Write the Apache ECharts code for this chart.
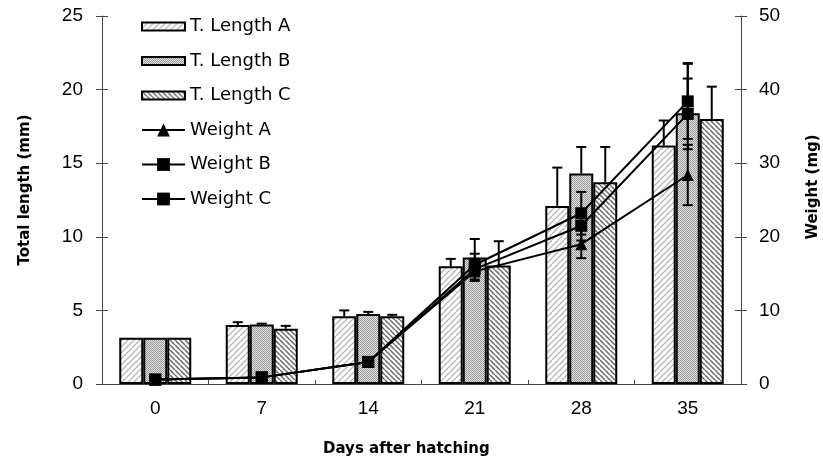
<!DOCTYPE html>
<html><head><meta charset="utf-8">
<script src="https://cdn.jsdelivr.net/npm/echarts@6/dist/echarts.min.js"></script>
<style>html,body{margin:0;padding:0;background:#fff}#c{width:823px;height:461px}</style>
</head><body><div id="c"></div>
<script>
const days = ['0','7','14','21','28','35'];
const lenA = [3.15, 4.0, 4.6, 8.0, 12.1, 16.2];
const lenB = [3.15, 4.05, 4.75, 8.6, 14.3, 18.4];
const lenC = [3.15, 3.75, 4.6, 8.05, 13.7, 18.0];
const lenAErr = [0, 0.2, 0.4, 0.5, 2.6, 1.7];
const lenBErr = [0, 0.05, 0.15, 1.25, 1.8, 3.4];
const lenCErr = [0, 0.2, 0.1, 1.65, 2.4, 2.2];
const wA = [0.6, 0.9, 3.0, 15.3, 19.0, 28.4];
const wB = [0.6, 0.9, 3.0, 16.2, 23.2, 38.4];
const wC = [0.6, 0.9, 3.0, 15.6, 21.5, 36.7];
const wAErr = [0, 0, 0, 1.3, 1.9, 4.1];
const wBErr = [0, 0, 0, 1.5, 2.9, 5.1];
const wCErr = [0, 0, 0, 1.4, 2.0, 4.8];
const leftTicks = {min: 0, max: 25, interval: 5};
const rightTicks = {min: 0, max: 50, interval: 10};
const titles = {x: 'Days after hatching', left: 'Total length (mm)', right: 'Weight (mg)'};

function pattern(kind) {
  const c = document.createElement('canvas');
  const ctx = c.getContext('2d');
  if (kind === 'B') {
    c.width = 2; c.height = 2;
    ctx.fillStyle = '#e2e2e2'; ctx.fillRect(0,0,2,2);
    ctx.fillStyle = '#9a9a9a'; ctx.fillRect(0,0,1,1); ctx.fillRect(1,1,1,1);
  } else {
    const s = kind === 'A' ? 6 : 5;
    c.width = s; c.height = s;
    ctx.fillStyle = '#fff'; ctx.fillRect(0,0,s,s);
    ctx.strokeStyle = kind === 'A' ? '#b5b5b5' : '#6a6a6a';
    ctx.lineWidth = kind === 'A' ? 1.3 : 1.5;
    ctx.beginPath();
    for (const k of [-s, 0, s]) {
      if (kind === 'A') { ctx.moveTo(k, s); ctx.lineTo(k + s, 0); }
      else { ctx.moveTo(k, 0); ctx.lineTo(k + s, s); }
    }
    ctx.stroke();
  }
  return {image: c, repeat: 'repeat'};
}

const barErrData = [];
[[lenA, lenAErr], [lenB, lenBErr], [lenC, lenCErr]].forEach((p, si) => {
  p[0].forEach((v, i) => { if (p[1][i] > 0) barErrData.push([i, v, p[1][i], si]); });
});
const wErrData = [];
[[wA, wAErr], [wB, wBErr], [wC, wCErr]].forEach((p) => {
  p[0].forEach((v, i) => { if (p[1][i] > 0) wErrData.push([i, v, p[1][i]]); });
});

const catGap = 0.324;
const errStyle = {stroke: '#000', lineWidth: 2};
function barErr(params, api) {
  const i = api.value(0), v = api.value(1), e = api.value(2), si = api.value(3);
  const band = api.size([1, 0])[0];
  const bw = band * (1 - catGap) / 3;
  const p0 = api.coord([i, v]);
  const p1 = api.coord([i, v + e]);
  const x = p0[0] + (si - 1) * bw;
  return {type: 'group', children: [
    {type: 'line', shape: {x1: x, y1: p0[1], x2: x, y2: p1[1]}, style: errStyle},
    {type: 'line', shape: {x1: x - 5, y1: p1[1], x2: x + 5, y2: p1[1]}, style: errStyle}
  ]};
}
function wErr(params, api) {
  const i = api.value(0), v = api.value(1), e = api.value(2);
  const pt = api.coord([i, v + e]);
  const pb = api.coord([i, v - e]);
  const x = pt[0];
  return {type: 'group', children: [
    {type: 'line', shape: {x1: x, y1: pt[1], x2: x, y2: pb[1]}, style: errStyle},
    {type: 'line', shape: {x1: x - 5, y1: pt[1], x2: x + 5, y2: pt[1]}, style: errStyle},
    {type: 'line', shape: {x1: x - 5, y1: pb[1], x2: x + 5, y2: pb[1]}, style: errStyle}
  ]};
}

const axisColor = '#444';
const axisLine = {show: true, lineStyle: {color: axisColor, width: 1}};
const tickLabel = {color: '#000', fontSize: 19, fontFamily: 'Arial, "Liberation Sans", sans-serif'};
const titleFont = 'bold 15px "DejaVu Sans"';
const legendText = {fontSize: 18, lineHeight: 18, fontFamily: 'DejaVu Sans', color: '#000'};

const chart = echarts.init(document.getElementById('c'), null, {renderer: 'canvas'});
const barStyle = (k) => ({color: pattern(k), borderColor: '#000', borderWidth: 2});
const hiddenAxis = {axisLine: {show: false}, axisLabel: {show: false}, splitLine: {show: false}};
chart.setOption({
  animation: false,
  grid: {left: 102, right: 82, top: 16, bottom: 77},
  legend: [
    {orient: 'vertical', left: 141, top: 17.5, padding: 0, icon: 'rect', itemWidth: 43, itemHeight: 8, itemGap: 16.5,
      textStyle: legendText, data: ['T. Length A', 'T. Length B', 'T. Length C']},
    {orient: 'vertical', left: 141, top: 121, padding: 0, itemWidth: 43, itemHeight: 16, itemGap: 16.5,
      textStyle: legendText, data: ['Weight A', 'Weight B', 'Weight C']}
  ],
  graphic: [
    {type: 'text', left: 408 - 85, top: 442, style: {text: titles.x, font: titleFont, fill: '#000'}},
    {type: 'text', x: 25, y: 190, rotation: Math.PI / 2,
      style: {text: titles.left, font: titleFont, fill: '#000', align: 'center', verticalAlign: 'middle'}},
    {type: 'text', x: 813, y: 187, rotation: Math.PI / 2,
      style: {text: titles.right, font: titleFont, fill: '#000', align: 'center', verticalAlign: 'middle'}}
  ],
  xAxis: [
    {type: 'category', data: days, position: 'bottom',
      axisLine: axisLine, axisTick: {length: 6, lineStyle: {color: axisColor}},
      axisLabel: Object.assign({margin: 15}, tickLabel)},
    Object.assign({type: 'category', data: days, position: 'bottom',
      axisTick: {show: true, inside: true, length: 4, lineStyle: {color: axisColor}}}, hiddenAxis)
  ],
  yAxis: [
    Object.assign({type: 'value', position: 'left',
      axisLine: axisLine, axisTick: {show: true, length: 6, lineStyle: {color: axisColor}},
      splitLine: {show: false}, axisLabel: Object.assign({margin: 19}, tickLabel)}, leftTicks),
    Object.assign({type: 'value', position: 'right',
      axisLine: axisLine, axisTick: {show: true, length: 6, lineStyle: {color: axisColor}},
      splitLine: {show: false}, axisLabel: Object.assign({margin: 18}, tickLabel)}, rightTicks),
    Object.assign({type: 'value', position: 'left', offset: 0,
      axisTick: {show: true, inside: true, length: 6, lineStyle: {color: axisColor}}}, hiddenAxis, leftTicks),
    Object.assign({type: 'value', position: 'right', offset: 0,
      axisTick: {show: true, inside: true, length: 6, lineStyle: {color: axisColor}}}, hiddenAxis, rightTicks)
  ],
  series: [
    {name: 'T. Length A', type: 'bar', data: lenA, barGap: '0%', barCategoryGap: '32.4%', itemStyle: barStyle('A')},
    {name: 'T. Length B', type: 'bar', data: lenB, barGap: '0%', barCategoryGap: '32.4%', itemStyle: barStyle('B')},
    {name: 'T. Length C', type: 'bar', data: lenC, barGap: '0%', barCategoryGap: '32.4%', itemStyle: barStyle('C')},
    {type: 'custom', renderItem: barErr, data: barErrData, z: 3, silent: true},
    {name: 'Weight A', type: 'line', yAxisIndex: 1, data: wA, symbol: 'triangle', symbolSize: 12, z: 5,
      lineStyle: {color: '#000', width: 2}, itemStyle: {color: '#000'}},
    {name: 'Weight B', type: 'line', yAxisIndex: 1, data: wB, symbol: 'rect', symbolSize: 12, z: 5,
      lineStyle: {color: '#000', width: 2}, itemStyle: {color: '#000'}},
    {name: 'Weight C', type: 'line', yAxisIndex: 1, data: wC, symbol: 'rect', symbolSize: 12, z: 5,
      lineStyle: {color: '#000', width: 2}, itemStyle: {color: '#000'}},
    {type: 'custom', yAxisIndex: 1, renderItem: wErr, data: wErrData, z: 6, silent: true}
  ]
});
</script></body></html>
